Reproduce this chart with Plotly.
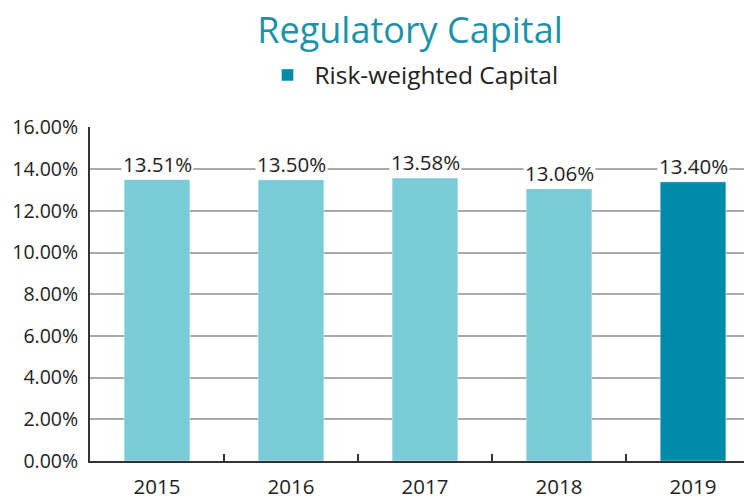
import plotly.graph_objects as go

years = ["2015", "2016", "2017", "2018", "2019"]
values = [13.51, 13.50, 13.58, 13.06, 13.40]
labels = ["13.51%", "13.50%", "13.58%", "13.06%", "13.40%"]
y_ticks = [0, 2, 4, 6, 8, 10, 12, 14, 16]
y_tick_text = ["0.00%", "2.00%", "4.00%", "6.00%", "8.00%", "10.00%", "12.00%", "14.00%", "16.00%"]

LIGHT = "#78CBD7"
DARK = "#008CA8"
FONT = "'Open Sans', Lato, sans-serif"

# page has an 8px body margin, so the figure is 744x490 to fill the 752x498 window
W, H, OFF = 744, 490, 8

fig = go.Figure()
fig.add_trace(go.Bar(x=years[:4], y=values[:4], marker_color=LIGHT, width=0.49,
                     showlegend=False, name="Risk-weighted Capital"))
fig.add_trace(go.Bar(x=years[4:], y=values[4:], marker_color=DARK, width=0.49,
                     showlegend=True, name="Risk-weighted Capital"))

for i, (v, t) in enumerate(zip(values, labels)):
    fig.add_annotation(x=i, y=v, xref="x", yref="y", text=t, showarrow=False,
                       yanchor="bottom", yshift=0, bgcolor="white", borderpad=1,
                       font=dict(family=FONT, size=20.5, color="#222222"))

fig.update_layout(
    width=W, height=H,
    margin=dict(l=90 - OFF, r=0, t=127 - OFF, b=498 - 461, autoexpand=False),
    paper_bgcolor="white", plot_bgcolor="white",
    barmode="overlay",
    title=dict(text="Regulatory Capital", x=(410 - OFF) / W, xanchor="center", xref="container",
               y=1 - (30 - OFF) / H, yanchor="middle", yref="container",
               font=dict(family=FONT, size=36, color="#1A93A8")),
    legend=dict(orientation="h", x=(412 - OFF) / W, xanchor="center", xref="container",
                y=1 - (75 - OFF) / H, yanchor="middle", yref="container", itemwidth=44,
                font=dict(family=FONT, size=24.5, color="#222222")),
    xaxis=dict(type="category", range=[-0.5, 4.44], showgrid=False, automargin=False,
               showline=True, linecolor="#333333", linewidth=2,
               ticks="inside", tickson="boundaries", ticklen=7, tickcolor="#333333", tickwidth=1.5,
               tickfont=dict(family=FONT, size=20.5, color="#222222"), ticklabelstandoff=6),
    yaxis=dict(range=[0, 16.03], tickvals=y_ticks, ticktext=y_tick_text, automargin=False,
               showgrid=True, gridcolor="#AAAAAA", gridwidth=1.5,
               showline=True, linecolor="#333333", linewidth=2, zeroline=False,
               tickfont=dict(family=FONT, size=19.5, color="#222222"), ticklabelstandoff=6),
)

fig.write_html("out.html")
